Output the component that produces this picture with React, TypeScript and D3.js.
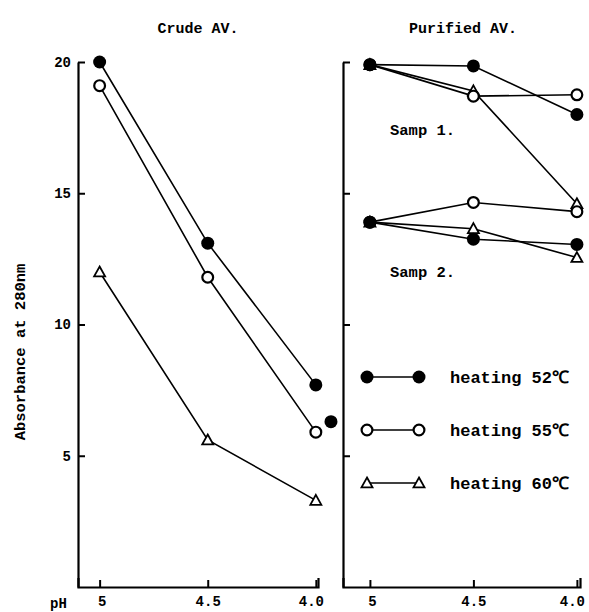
import React, { useEffect, useRef } from 'react'
import * as d3 from 'd3'

const phLevels = [5, 4.5, 4.0]
const phLabels = ['5', '4.5', '4.0']
const yTicks = [5, 10, 15, 20]
const seriesNames = ['heating 52℃', 'heating 55℃', 'heating 60℃']
const markerKinds = ['filled', 'open', 'triangle']

// Crude AV.
const crude52 = [20.0, 13.1, 7.7]
const crude55 = [19.1, 11.8, 5.9]
const crude60 = [12.0, 5.6, 3.3]
const crudeStray = { ph: 3.93, value: 6.3 }

// Purified AV., Samp 1.
const samp1_52 = [19.9, 19.85, 18.0]
const samp1_55 = [19.9, 18.7, 18.75]
const samp1_60 = [19.9, 18.9, 14.6]

// Purified AV., Samp 2.
const samp2_52 = [13.9, 13.25, 13.05]
const samp2_55 = [13.9, 14.65, 14.3]
const samp2_60 = [13.9, 13.65, 12.55]

const FONT = '"Liberation Mono", "DejaVu Sans Mono", monospace'

const App: React.FC = () => {
    const ref = useRef<SVGSVGElement | null>(null)

    useEffect(() => {
        if (!ref.current) return
        const width = 589
        const height = 612
        const svg = d3.select(ref.current)
        svg.selectAll('*').remove()
        svg.attr('width', width).attr('height', height)

        const y = d3.scaleLinear().domain([0, 20]).range([587, 62])
        const xLeft = d3.scaleLinear().domain([5.1, 3.99]).range([78, 318])
        const xRight = d3.scaleLinear().domain([5.13, 3.985]).range([343, 580])

        const drawMarker = (g: d3.Selection<SVGGElement, unknown, null, undefined>, kind: string, cx: number, cy: number) => {
            if (kind === 'filled') {
                g.append('circle').attr('cx', cx).attr('cy', cy).attr('r', 6.5).attr('fill', '#000')
            } else if (kind === 'open') {
                g.append('circle').attr('cx', cx).attr('cy', cy).attr('r', 5.4)
                    .attr('fill', '#fff').attr('stroke', '#000').attr('stroke-width', 2.2)
            } else {
                const s = 5.5
                g.append('path')
                    .attr('d', `M${cx},${cy - s}L${cx + s},${cy + s * 0.8}L${cx - s},${cy + s * 0.8}Z`)
                    .attr('fill', '#fff').attr('stroke', '#000').attr('stroke-width', 1.8)
            }
        }

        const drawSeries = (x: d3.ScaleLinear<number, number>, values: number[], kind: string) => {
            const g = svg.append('g')
            const line = d3.line<number>().x((_, i) => x(phLevels[i])).y(d => y(d))
            g.append('path').attr('d', line(values)).attr('fill', 'none')
                .attr('stroke', '#000').attr('stroke-width', 1.6)
            values.forEach((v, i) => drawMarker(g, kind, x(phLevels[i]), y(v)))
        }

        const drawAxes = (x: d3.ScaleLinear<number, number>, labels: boolean) => {
            const gy = svg.append('g')
                .attr('transform', `translate(${x.range()[0]},0)`)
                .call(d3.axisLeft(y).tickValues(yTicks).tickSize(-7).tickSizeOuter(0).tickPadding(7)
                    .tickFormat(d => labels ? String(d) : ''))
            const gx = svg.append('g')
                .attr('transform', `translate(0,${y(0)})`)
                .call(d3.axisBottom(x).tickValues(phLevels).tickSize(-7).tickSizeOuter(-9).tickPadding(9)
                    .tickFormat((_, i) => phLabels[i]))
            for (const g of [gx, gy]) {
                g.select('.domain').attr('stroke-width', 2.2)
                g.selectAll('.tick line').attr('stroke-width', 2)
                g.selectAll('.tick text').attr('font-family', FONT).attr('font-weight', 'bold')
                    .attr('font-size', 14).attr('fill', '#000')
            }
            gx.selectAll('.tick text').attr('dx', (_, i) => i === 2 ? -5 : i === 0 ? 2 : 0)
        }

        drawAxes(xLeft, true)
        drawAxes(xRight, false)

        const crude = [crude52, crude55, crude60]
        crude.forEach((s, i) => drawSeries(xLeft, s, markerKinds[i]))
        drawMarker(svg.append('g'), 'filled', xLeft(crudeStray.ph), y(crudeStray.value))

        const samp1 = [samp1_60, samp1_55, samp1_52]
        const samp1Kinds = ['triangle', 'open', 'filled']
        samp1.forEach((s, i) => drawSeries(xRight, s, samp1Kinds[i]))
        const samp2 = [samp2_60, samp2_55, samp2_52]
        const samp2Kinds = ['triangle', 'open', 'filled']
        samp2.forEach((s, i) => drawSeries(xRight, s, samp2Kinds[i]))

        const text = (x: number, yy: number, t: string, size: number, anchor = 'start') =>
            svg.append('text').attr('x', x).attr('y', yy).attr('text-anchor', anchor)
                .attr('font-family', FONT).attr('font-weight', 'bold').attr('font-size', size)
                .attr('fill', '#000').text(t)

        text(198, 33, 'Crude AV.', 15, 'middle')
        text(463, 33, 'Purified AV.', 15, 'middle')
        text(390, 135, 'Samp 1.', 15.5)
        text(390, 277, 'Samp 2.', 15.5)
        text(50, 608, 'pH', 14)

        svg.append('text')
            .attr('transform', `translate(25,352) rotate(-90)`)
            .attr('text-anchor', 'middle')
            .attr('font-family', FONT).attr('font-weight', 'bold').attr('font-size', 15.5).attr('fill', '#000')
            .text('Absorbance at 280nm')

        // legend
        seriesNames.forEach((name, i) => {
            const ly = 377 + i * 53
            const g = svg.append('g')
            g.append('line').attr('x1', 367).attr('x2', 419).attr('y1', ly).attr('y2', ly)
                .attr('stroke', '#000').attr('stroke-width', 1.6)
            drawMarker(g, markerKinds[i], 367, ly)
            drawMarker(g, markerKinds[i], 419, ly)
            text(450, ly + 6, name, 17)
        })
    }, [])

    return <svg ref={ref} style={{ position: 'absolute', left: 0, top: 0, background: '#fff' }}></svg>
}

export default App
